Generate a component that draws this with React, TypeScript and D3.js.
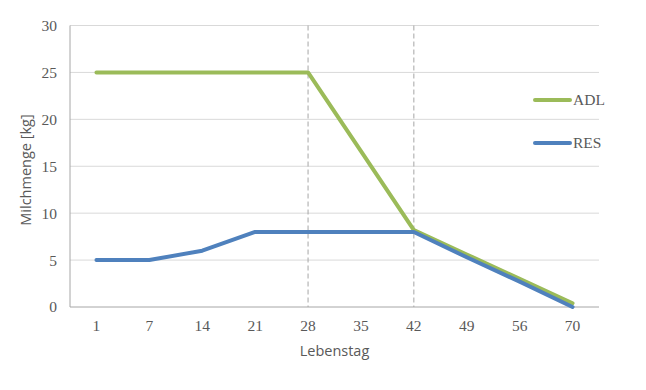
import React from "react";
import * as d3 from "d3";

const categories = ["1", "7", "14", "21", "28", "35", "42", "49", "56", "70"];
const adl = [25, 25, 25, 25, 25, 16.6, 8.2, 5.6, 3.0, 0.4];
const res = [5, 5, 6, 8, 8, 8, 8, 5.3, 2.7, 0];
const yTicks = [0, 5, 10, 15, 20, 25, 30];
const markerDays = ["28", "42"];
const seriesNames = ["ADL", "RES"];
const seriesColors = ["#9bbb59", "#4f81bd"];

const W = 646;
const H = 390;
const left = 70;
const right = 599;
const top = 25.5;
const bottom = 307;

export default function App() {
  const x = d3.scaleBand<string>().domain(categories).range([left, right]);
  const y = d3.scaleLinear().domain([0, 30]).range([bottom, top]);
  const cx = (c: string) => (x(c) as number) + x.bandwidth() / 2;
  const line = d3
    .line<number>()
    .x((_, i) => cx(categories[i]))
    .y((d) => y(d));
  const serif = "'Liberation Serif', 'DejaVu Serif', serif";
  const sans = "'Open Sans', 'Liberation Sans', sans-serif";
  const series = [adl, res];
  return (
    <svg
      width={W}
      height={H}
      style={{ position: "absolute", left: 0, top: 0, background: "#fff" }}
    >
      {yTicks.map((t) => (
        <g key={t}>
          {t > 0 && (
            <line x1={left} x2={right} y1={y(t)} y2={y(t)} stroke="#d9d9d9" strokeWidth={1} />
          )}
          <text
            x={57}
            y={y(t)}
            dy="0.35em"
            textAnchor="end"
            fontFamily={serif}
            fontSize={15.5}
            fill="#595959"
          >
            {t}
          </text>
        </g>
      ))}
      {markerDays.map((d) => (
        <line
          key={d}
          x1={cx(d)}
          x2={cx(d)}
          y1={top}
          y2={bottom}
          stroke="#a6a6a6"
          strokeWidth={1}
          strokeDasharray="5,3"
        />
      ))}
      <line x1={left} x2={left} y1={top} y2={bottom} stroke="#a6a6a6" strokeWidth={1} />
      <line x1={left} x2={right} y1={bottom} y2={bottom} stroke="#a6a6a6" strokeWidth={1} />
      {categories.map((c) => (
        <text
          key={c}
          x={cx(c)}
          y={326}
          dy="0.35em"
          textAnchor="middle"
          fontFamily={serif}
          fontSize={15.5}
          fill="#595959"
        >
          {c}
        </text>
      ))}
      {series.map((s, i) => (
        <path
          key={i}
          d={line(s) as string}
          fill="none"
          stroke={seriesColors[i]}
          strokeWidth={4}
          strokeLinejoin="round"
          strokeLinecap="round"
        />
      ))}
      <text
        x={(left + right) / 2}
        y={351}
        dy="0.35em"
        textAnchor="middle"
        fontFamily={sans}
        fontSize={14.5}
        fill="#595959"
      >
        Lebenstag
      </text>
      <text
        transform={`translate(26,170) rotate(-90)`}
        dy="0.35em"
        textAnchor="middle"
        fontFamily={sans}
        fontSize={14.5}
        fill="#595959"
      >
        Milchmenge [kg]
      </text>
      {seriesNames.map((n, i) => (
        <g key={n} transform={`translate(0,${100 + i * 43})`}>
          <line x1={535} x2={570} y1={0} y2={0} stroke={seriesColors[i]} strokeWidth={4} strokeLinecap="round" />
          <text x={573} y={0} dy="0.35em" fontFamily={serif} fontSize={15.5} fill="#595959">
            {n}
          </text>
        </g>
      ))}
    </svg>
  );
}
